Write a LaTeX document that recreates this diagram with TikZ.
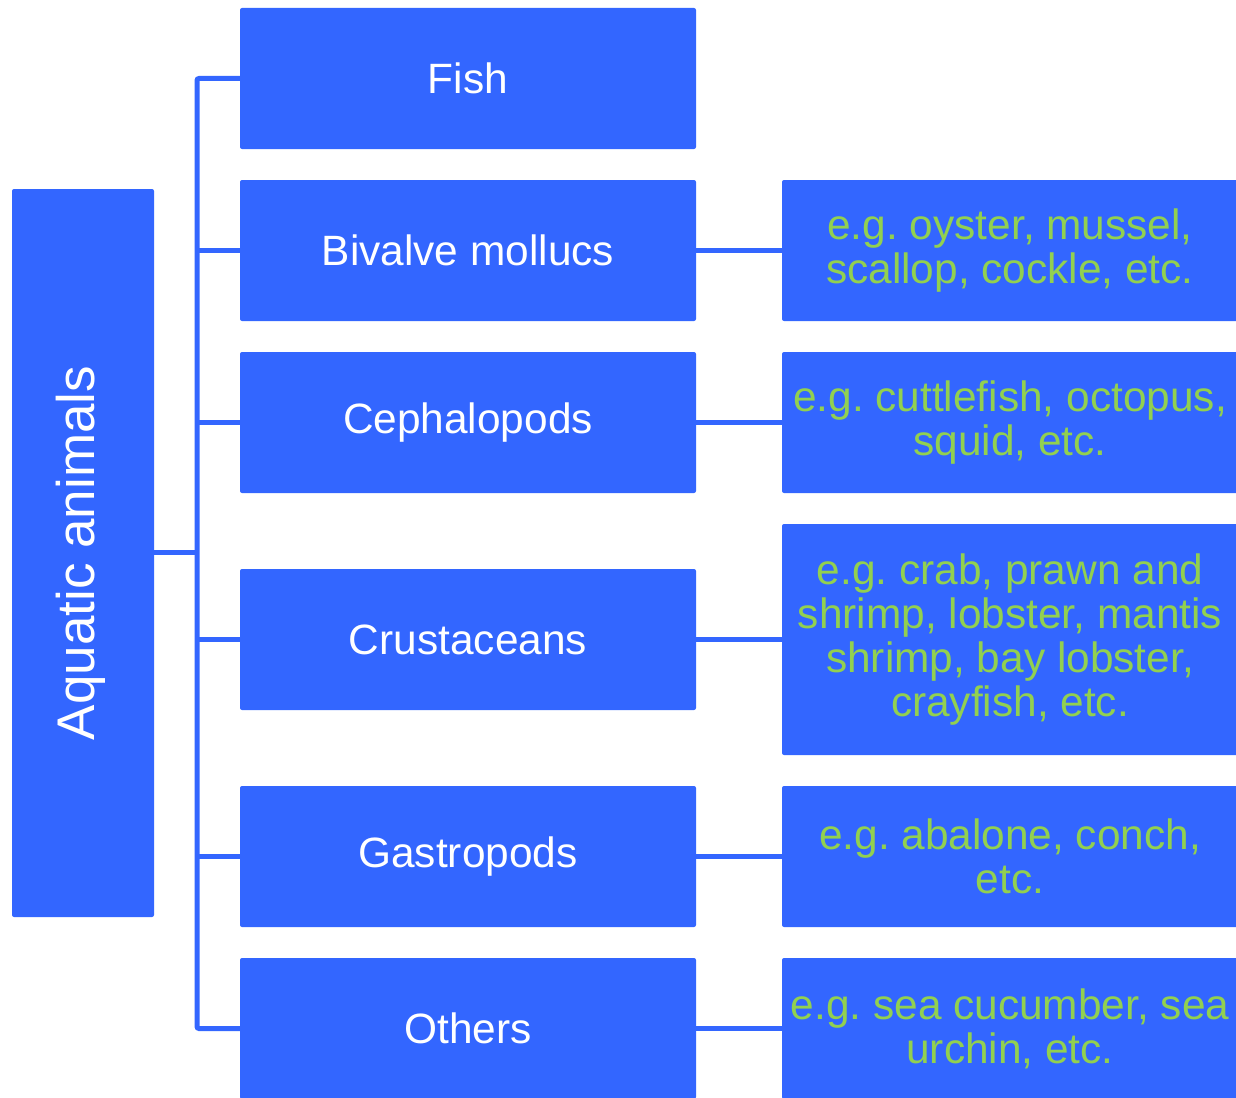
\documentclass[tikz,border=0pt]{standalone}
\usepackage{fontspec}
\setmainfont{Liberation Sans}
\definecolor{boxblue}{HTML}{3366FF}
\definecolor{txtgreen}{HTML}{92D050}
\frenchspacing
\begin{document}
\begin{tikzpicture}[x=1pt,y=-1pt,
  box/.style={fill=boxblue,draw=none,rounded corners=2pt,inner sep=0pt,align=center,
    font=\fontsize{42.4}{44}\selectfont},
  midbox/.style={box,minimum width=456pt,minimum height=141pt,text=white},
  rightbox/.style={box,minimum width=456pt,minimum height=141pt,text=txtgreen},
  link/.style={draw=boxblue,line width=5pt}]
\useasboundingbox (0,0) rectangle (1236,1097);
\node[box,minimum width=142pt,minimum height=728pt,text=white] (root) at (83,553) {};
\node[rotate=90,text=white,font=\fontsize{53}{60}\selectfont] (roottxt) at (81,553) {Aquatic animals};
\node[midbox] (fish) at (468,78.5) {Fish};
\node[midbox] (biv) at (468,250.5) {Bivalve mollucs};
\node[midbox] (cep) at (468,422.5) {Cephalopods};
\node[midbox] (cru) at (468,639.5) {Crustaceans};
\node[midbox] (gas) at (468,856.5) {Gastropods};
\node[midbox] (oth) at (468,1028.5) {Others};
\node[rightbox] (bivr) at (1010,250.5) {e.g. oyster, mussel,\\scallop, cockle, etc.};
\node[rightbox] (cepr) at (1010,422.5) {e.g. cuttlefish, octopus,\\squid, etc.};
\node[rightbox,minimum height=231pt] (crur) at (1010,639.5) {e.g. crab, prawn and\\shrimp, lobster, mantis\\shrimp, bay lobster,\\crayfish, etc.};
\node[rightbox] (gasr) at (1010,856.5) {e.g. abalone, conch,\\etc.};
\node[rightbox] (othr) at (1010,1028.5) {e.g. sea cucumber, sea\\urchin, etc.};
\coordinate (bx) at (197,0);
\draw[link,rounded corners=2pt] (fish.west) -- (bx |- fish.west) -- (bx |- oth.west) -- (oth.west);
\draw[link] (root.east |- 0,552) -- (bx |- 0,552);
\foreach \n in {biv,cep,cru,gas}{
  \draw[link] (bx |- \n.west) -- (\n.west);
}
\foreach \n in {biv,cep,cru,gas,oth}{
  \draw[link] (\n.east) -- (\n r.west);
}
\end{tikzpicture}
\end{document}
